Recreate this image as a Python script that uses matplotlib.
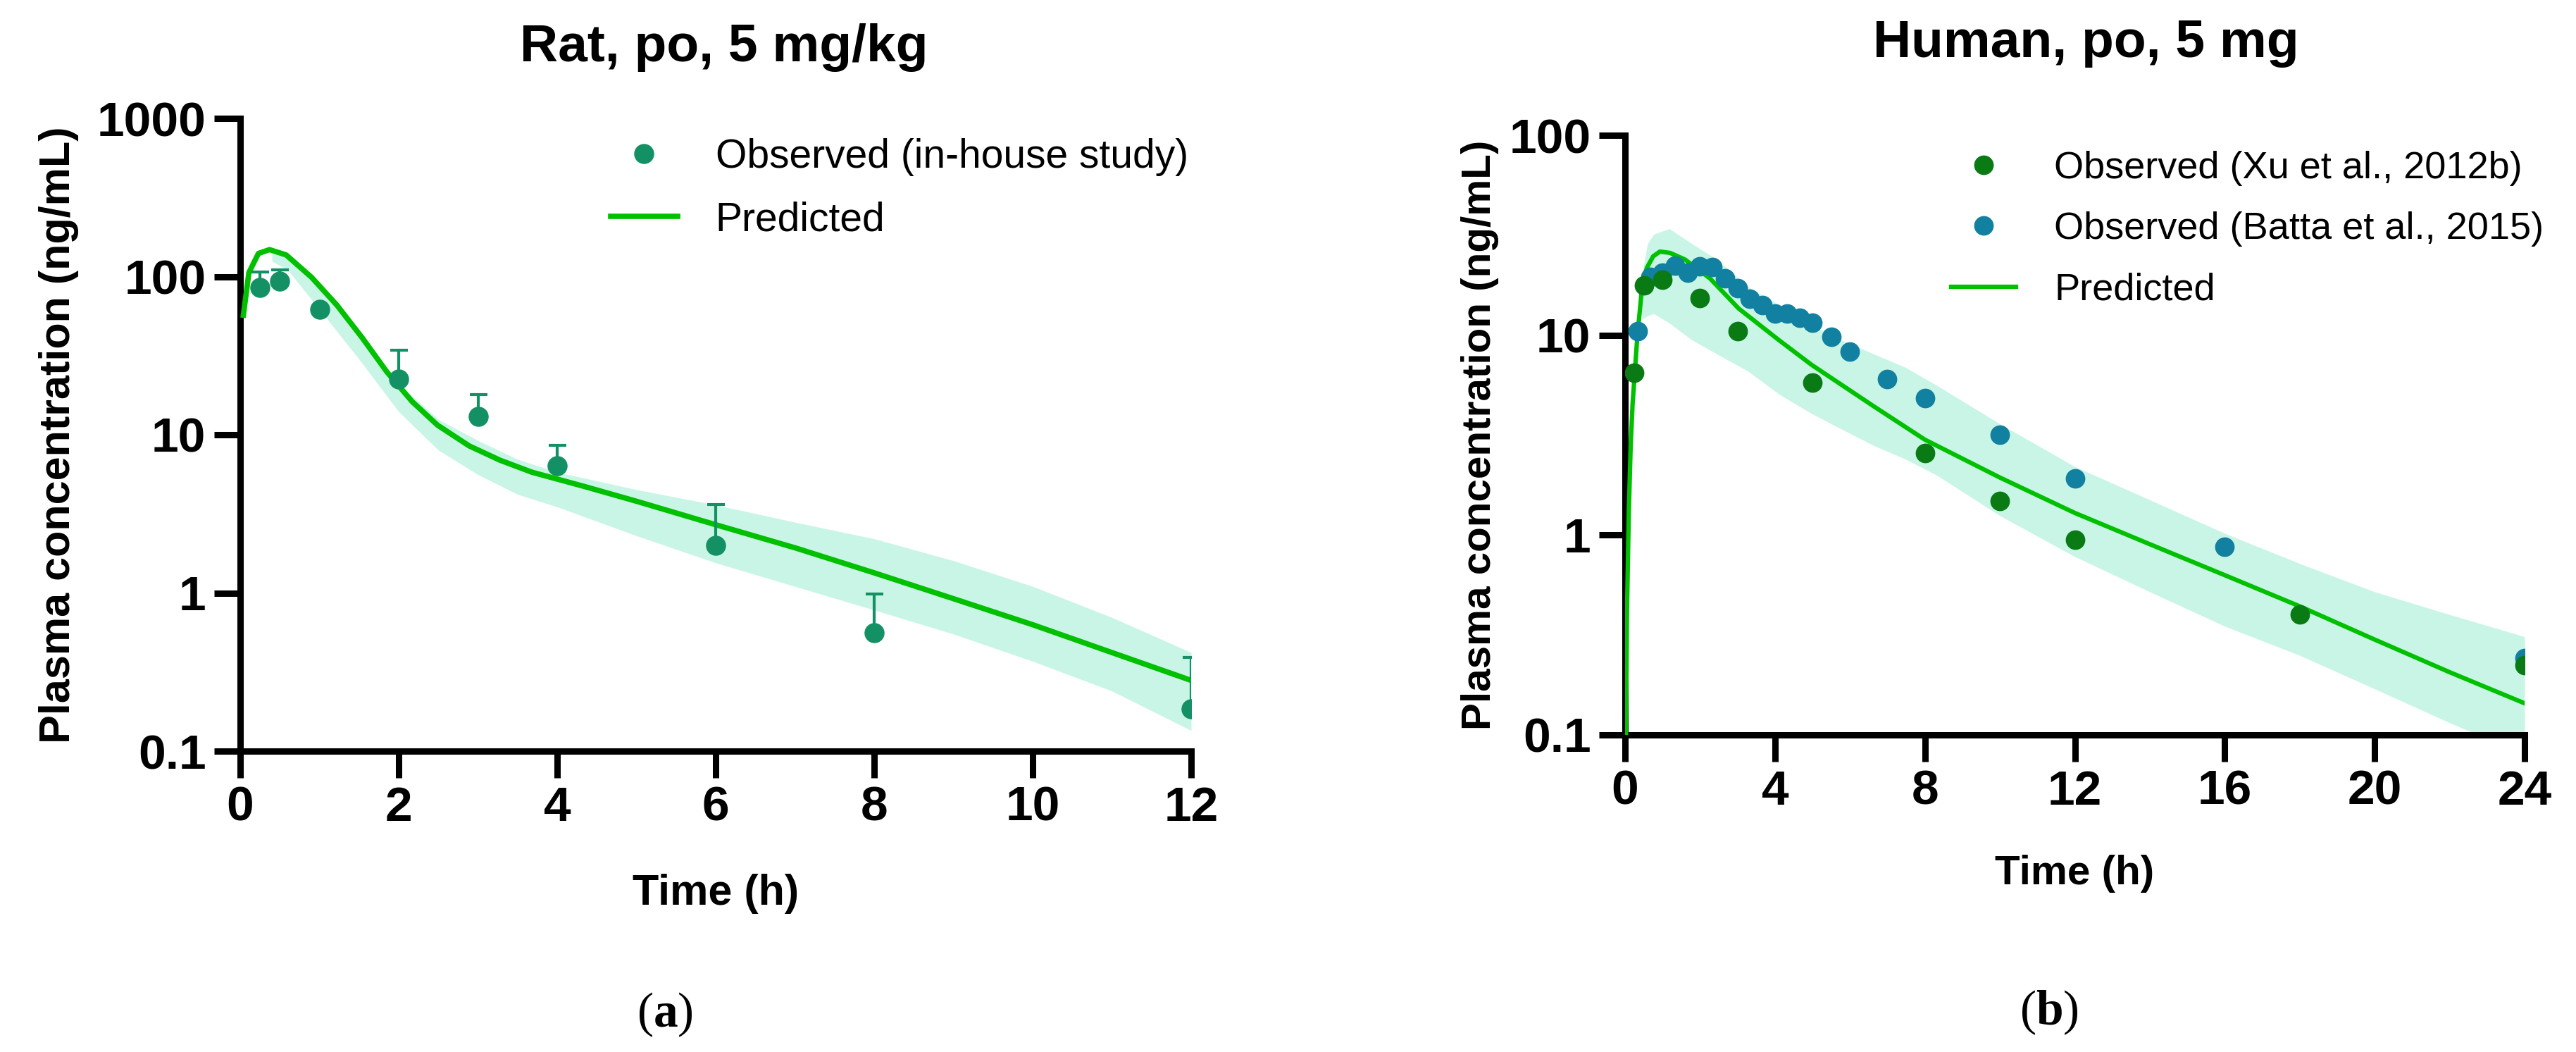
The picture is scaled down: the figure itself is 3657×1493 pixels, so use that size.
import numpy as np
import matplotlib
matplotlib.use('Agg')
import matplotlib.pyplot as plt
from matplotlib.lines import Line2D
from matplotlib.ticker import FixedLocator, FixedFormatter, NullLocator

plt.rcParams['font.family'] = ['Liberation Sans', 'DejaVu Sans']
plt.rcParams['mathtext.fontset'] = 'custom'
plt.rcParams['mathtext.rm'] = 'Liberation Serif'
plt.rcParams['mathtext.bf'] = 'Liberation Serif:bold'

# --- rat, po, 5 mg/kg ---
rat_t = [0.25, 0.5, 1, 2, 3, 4, 6, 8, 12]
rat_obs = [85, 94, 62, 22.6, 13.1, 6.4, 1.99, 0.56, 0.185]
rat_err = [22, 16, 0, 11.8, 4.8, 2.2, 1.65, 0.42, 0.205]

rat_pred_t = [0.04, 0.11, 0.23, 0.37, 0.58, 0.9, 1.22, 1.54, 1.85, 2.17, 2.49,
              2.89, 3.28, 3.68, 4.35, 5, 6, 7, 8, 9, 10, 11, 12]
rat_pred = [57, 106, 140, 148, 137, 99, 66, 41, 25, 16.2, 11.5,
            8.5, 6.9, 5.8, 4.7, 3.8, 2.7, 1.93, 1.34, 0.92, 0.63, 0.42, 0.28]

rat_band_t = [0.4, 0.6, 1.0, 1.5, 2, 2.5, 3, 3.5, 4, 5, 6, 7, 8, 9, 10, 11, 12]
rat_band_hi = [140, 132, 92, 44, 21, 12.5, 9.2, 7.0, 5.8, 4.5, 3.6, 2.8, 2.2,
               1.6, 1.1, 0.7, 0.42]
rat_band_lo = [125, 110, 62, 30, 14, 8, 5.6, 4.2, 3.5, 2.3, 1.55, 1.1, 0.78,
               0.55, 0.37, 0.24, 0.135]

# --- human, po, 5 mg ---
xu_t = [0.25, 0.5, 1, 2, 3, 5, 8, 10, 12, 18, 24]
xu_obs = [6.5, 17.8, 18.9, 15.3, 10.5, 5.8, 2.57, 1.48, 0.95, 0.40, 0.223]

batta_t = [0.33, 0.67, 1, 1.33, 1.67, 2, 2.33, 2.67, 3, 3.33, 3.67, 4, 4.33,
           4.67, 5, 5.5, 6, 7, 8, 10, 12, 16, 24]
batta_obs = [10.5, 19.6, 20.5, 22.3, 20.6, 22.1, 21.9, 19.2, 17.2, 15.2, 14.1,
             12.8, 12.8, 12.2, 11.5, 9.85, 8.3, 6.05, 4.86, 3.18, 1.92, 0.877,
             0.243]

hum_pred_t = [0.02, 0.05, 0.1, 0.15, 0.2, 0.26, 0.33, 0.45, 0.58, 0.75, 0.93,
              1.2, 1.6, 2.27, 3.03, 4.12, 4.98, 6.64, 8, 10, 12, 14, 16, 18,
              20, 22, 24]
hum_pred = [0.09, 0.4, 1.3, 2.8, 4.5, 6.5, 10, 17, 21.7, 24.8, 26.2,
            25.8, 23.9, 19.2, 13.6, 9.4, 7.1, 4.4, 3.0, 1.94, 1.29, 0.9, 0.63,
            0.44, 0.30, 0.206, 0.144]

hum_band_t = [0.45, 0.6, 0.77, 1.18, 1.77, 2.45, 3.28, 4.12, 4.96, 5.8, 6.64,
              7.48, 8.32, 10, 12, 14, 16, 18, 20, 22, 24]
hum_band_hi = [20, 28.8, 32, 34.1, 28.8, 23.9, 17.5, 14.1, 11.3, 9.4, 8.05,
               6.9, 5.6, 3.6, 2.2, 1.5, 1.02, 0.72, 0.52, 0.4, 0.31]
hum_band_lo = [12, 12.5, 12.8, 11.5, 9.5, 8.05, 6.6, 5.05, 4.07, 3.37, 2.8,
               2.4, 1.99, 1.25, 0.78, 0.52, 0.35, 0.25, 0.17, 0.115, 0.08]

LINE = '#00c000'
BAND = '#c9f5e6'
RAT_DOT = '#149164'
XU_DOT = '#0a7a14'
BATTA_DOT = '#1280a0'

W, H = 3657, 1493
fig = plt.figure(figsize=(W / 100, H / 100), dpi=100)


def style_axes(ax, xticks, yticks, ylabels, lab_x, lab_y, fs_lab):
    """."""
    ax.set_yscale('log')
    for s in ['top', 'right']:
        ax.spines[s].set_visible(False)
    for s in ['left', 'bottom']:
        ax.spines[s].set_linewidth(6.5)
    ax.xaxis.set_major_locator(FixedLocator(xticks))
    ax.set_xticklabels([str(v) for v in xticks])
    ax.yaxis.set_major_locator(FixedLocator(yticks))
    ax.yaxis.set_major_formatter(FixedFormatter(ylabels))
    ax.yaxis.set_minor_locator(NullLocator())
    ax.tick_params(which='major', length=27, width=6.5, labelsize=50, pad=8)
    for lab in ax.get_xticklabels() + ax.get_yticklabels():
        lab.set_fontweight('bold')
    ax.set_xlabel('Time (h)', fontsize=fs_lab, fontweight='bold')
    ax.set_ylabel('Plasma concentration (ng/mL)', fontsize=fs_lab,
                  fontweight='bold')
    ax.xaxis.set_label_coords(0.5, lab_x)
    ax.xaxis.label.set_verticalalignment('center')
    ax.yaxis.set_label_coords(lab_y, 0.5)
    ax.yaxis.label.set_verticalalignment('center')


def dot_handle(color, ms):
    """."""
    return Line2D([], [], ls='none', marker='o', color=color, ms=ms)


# left panel
ax1 = fig.add_axes([341 / W, 1 - 1066 / H, 1350 / W, 898 / H])
ax1.fill_between(rat_band_t, rat_band_lo, rat_band_hi, color=BAND, lw=0,
                 zorder=1)
pred1, = ax1.plot(rat_pred_t, rat_pred, color=LINE, lw=5.5, zorder=3)
ax1.errorbar(rat_t, rat_obs, yerr=[np.zeros(len(rat_err)), rat_err],
             fmt='o', color=RAT_DOT, ms=19.5, elinewidth=3, capsize=9,
             capthick=3, zorder=4)
ax1.set_xlim(0, 12)
ax1.set_ylim(0.1, 1000)
style_axes(ax1, [0, 2, 4, 6, 8, 10, 12], [0.1, 1, 10, 100, 1000],
           ['0.1', '1', '10', '100', '1000'], -0.226, -0.191, 44)
fig.legend([dot_handle(RAT_DOT, 19.5), pred1],
           ['Observed (in-house study)', 'Predicted'], loc='upper left',
           bbox_to_anchor=(867 / W, 1 - 196 / H), frameon=False,
           fontsize=41, handlelength=1.66, handletextpad=0.95,
           labelspacing=0.62, borderpad=0, borderaxespad=0)

# right panel
ax2 = fig.add_axes([2307 / W, 1 - 1043 / H, 1277 / W, 851 / H])
ax2.fill_between(hum_band_t, hum_band_lo, hum_band_hi, color=BAND, lw=0,
                 zorder=1)
pred2, = ax2.plot(hum_pred_t, hum_pred, color=LINE, lw=4.5, zorder=3)
ax2.plot(batta_t, batta_obs, 'o', color=BATTA_DOT, ms=19, zorder=4)
ax2.plot(xu_t, xu_obs, 'o', color=XU_DOT, ms=19, zorder=5)
ax2.set_xlim(0, 24)
ax2.set_ylim(0.1, 100)
style_axes(ax2, [0, 4, 8, 12, 16, 20, 24], [0.1, 1, 10, 100],
           ['0.1', '1', '10', '100'], -0.231, -0.161, 42)
fig.legend([dot_handle(XU_DOT, 19), dot_handle(BATTA_DOT, 19), pred2],
           ['Observed (Xu et al., 2012b)', 'Observed (Batta et al., 2015)',
            'Predicted'], loc='upper left',
           bbox_to_anchor=(2770 / W, 1 - 214 / H), frameon=False,
           fontsize=39, handlelength=1.7, handletextpad=1.0,
           labelspacing=0.67, borderpad=0, borderaxespad=0)

# titles and panel tags
fig.text(1028 / W, 1 - 67 / H, 'Rat, po, 5 mg/kg', fontsize=54,
         fontweight='bold', ha='center', va='center')
fig.text(2961 / W, 1 - 62 / H, 'Human, po, 5 mg', fontsize=54,
         fontweight='bold', ha='center', va='center')
fig.text(944 / W, 1 - 1440 / H, '(' + r'$\mathbf{a}$' + ')', fontsize=50,
         family='Liberation Serif', ha='center', va='center')
fig.text(2909 / W, 1 - 1437 / H, '(' + r'$\mathbf{b}$' + ')', fontsize=50,
         family='Liberation Serif', ha='center', va='center')

fig.savefig('out.png', dpi=100, facecolor='white')
